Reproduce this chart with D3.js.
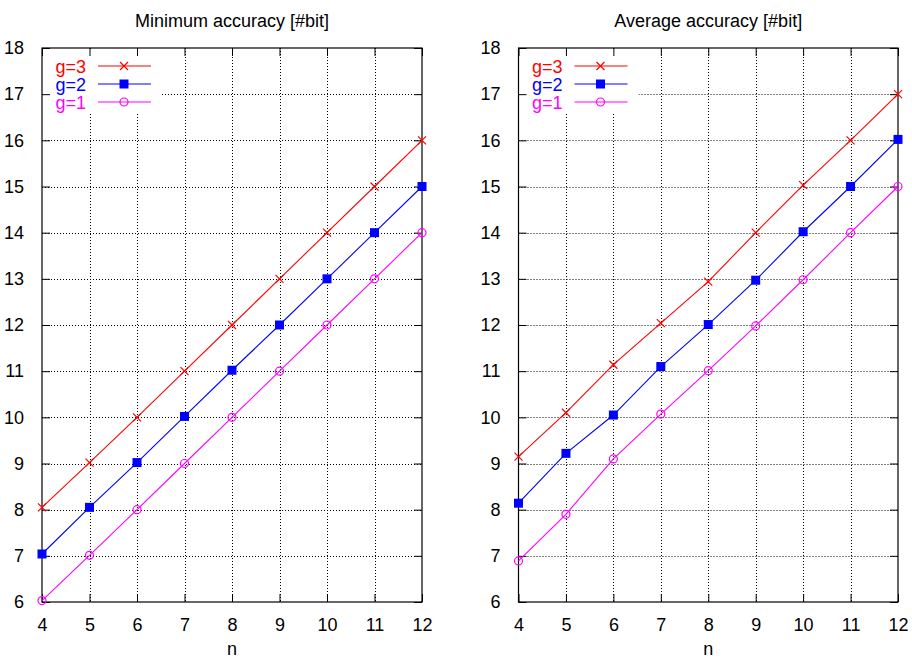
<!DOCTYPE html>
<html><head><meta charset="utf-8">
<script src="https://cdn.jsdelivr.net/npm/d3@7"></script>
<style>body{margin:0;background:#fff}svg{display:block;font-family:"Liberation Sans",Arial,sans-serif}</style>
</head><body><svg id="c" width="912" height="658"></svg>
<script>
const nValues = [4, 5, 6, 7, 8, 9, 10, 11, 12];
const yTicks = [6, 7, 8, 9, 10, 11, 12, 13, 14, 15, 16, 17, 18];
const minG3 = [8.05, 9.02, 10.0, 11.0, 12.0, 13.0, 14.0, 15.0, 16.0];
const minG2 = [7.04, 8.05, 9.02, 10.02, 11.02, 12.0, 13.0, 14.0, 15.0];
const minG1 = [6.03, 7.01, 8.0, 9.0, 10.0, 11.0, 12.0, 13.0, 14.0];
const avgG3 = [9.15, 10.1, 11.14, 12.04, 12.94, 14.0, 15.03, 16.0, 17.0];
const avgG2 = [8.14, 9.22, 10.05, 11.1, 12.01, 12.97, 14.02, 15.0, 16.02];
const avgG1 = [6.89, 7.9, 9.1, 10.07, 11.01, 11.98, 12.98, 14.0, 15.0];
const seriesNames = ["g=3", "g=2", "g=1"];
const seriesColors = ["#ff0000", "#0000ff", "#ff00ff"];
const seriesMarkers = ["cross", "square", "circle"];
const panelTitles = ["Minimum accuracy [#bit]", "Average accuracy [#bit]"];
const xLabel = "n";

const svg = d3.select("#c");
const panels = [
  {title: panelTitles[0], left: 42, right: 422, data: [minG3, minG2, minG1]},
  {title: panelTitles[1], left: 518.5, right: 898, data: [avgG3, avgG2, avgG1]}
];
const plotTop = 48, plotBottom = 602;

function marker(g, type, x, y, color) {
  if (type === "cross") {
    g.append("path").attr("d", `M${x-4},${y-4}L${x+4},${y+4}M${x-4},${y+4}L${x+4},${y-4}`)
      .attr("stroke", color).attr("stroke-width", 1.2).attr("fill", "none");
  } else if (type === "square") {
    g.append("rect").attr("x", x-4.5).attr("y", y-4.5).attr("width", 9).attr("height", 9).attr("fill", color);
  } else {
    g.append("circle").attr("cx", x).attr("cy", y).attr("r", 4).attr("fill", "none")
      .attr("stroke", color).attr("stroke-width", 1.2);
  }
}

panels.forEach(p => {
  const x = d3.scaleLinear().domain([4, 12]).range([p.left, p.right]);
  const y = d3.scaleLinear().domain([6, 18]).range([plotBottom, plotTop]);
  const g = svg.append("g");

  const grid = g.append("g").attr("stroke", "#000").attr("stroke-width", 1).attr("stroke-dasharray", "1,2");
  nValues.slice(1, -1).forEach(v => grid.append("line").attr("x1", Math.round(x(v))+0.5).attr("x2", Math.round(x(v))+0.5).attr("y1", plotTop).attr("y2", plotBottom));
  yTicks.slice(1, -1).forEach(v => grid.append("line").attr("y1", Math.round(y(v))+0.5).attr("y2", Math.round(y(v))+0.5).attr("x1", p.left).attr("x2", p.right));

  g.append("rect").attr("x", p.left + 1).attr("y", plotTop + 1).attr("width", 119).attr("height", 64).attr("fill", "#fff");

  const axB = d3.axisBottom(x).tickValues(nValues).tickSize(-8).tickPadding(16).tickFormat(d3.format("d"));
  const axT = d3.axisTop(x).tickValues(nValues).tickSize(-8).tickFormat("");
  const axL = d3.axisLeft(y).tickValues(yTicks).tickSize(-8).tickPadding(18).tickFormat(d3.format("d"));
  const axR = d3.axisRight(y).tickValues(yTicks).tickSize(-8).tickFormat("");
  [[axB, `translate(0,${plotBottom})`], [axT, `translate(0,${plotTop})`], [axL, `translate(${p.left},0)`], [axR, `translate(${p.right},0)`]].forEach(([ax, tr]) => {
    const a = g.append("g").attr("transform", tr).call(ax);
    a.select(".domain").remove();
    a.selectAll("line").attr("stroke", "#000");
    a.selectAll("text").attr("font-size", 18).attr("fill", "#000").attr("font-family", "Liberation Sans, Arial, sans-serif");
  });
  g.append("rect").attr("x", p.left).attr("y", plotTop).attr("width", p.right - p.left).attr("height", plotBottom - plotTop)
    .attr("fill", "none").attr("stroke", "#000").attr("stroke-width", 1.2);

  const line = d3.line().x((d, i) => x(nValues[i])).y(d => y(d));
  p.data.forEach((vals, si) => {
    g.append("path").datum(vals).attr("d", line).attr("fill", "none").attr("stroke", seriesColors[si]).attr("stroke-width", 1.1);
    vals.forEach((v, i) => marker(g, seriesMarkers[si], x(nValues[i]), y(v), seriesColors[si]));
  });

  seriesNames.forEach((name, si) => {
    const ly = 66 + si * 18;
    g.append("text").attr("x", p.left + 44).attr("y", ly + 6.5).attr("text-anchor", "end")
      .attr("font-size", 18).attr("fill", seriesColors[si]).text(name);
    g.append("line").attr("x1", p.left + 56).attr("x2", p.left + 109).attr("y1", ly).attr("y2", ly)
      .attr("stroke", seriesColors[si]).attr("stroke-width", 1.1);
    marker(g, seriesMarkers[si], p.left + 82, ly, seriesColors[si]);
  });

  g.append("text").attr("x", (p.left + p.right) / 2).attr("y", 26.5).attr("text-anchor", "middle")
    .attr("font-size", 18).attr("fill", "#000").text(p.title);
  g.append("text").attr("x", (p.left + p.right) / 2).attr("y", 655).attr("text-anchor", "middle")
    .attr("font-size", 18).attr("fill", "#000").text(xLabel);
});
</script></body></html>
